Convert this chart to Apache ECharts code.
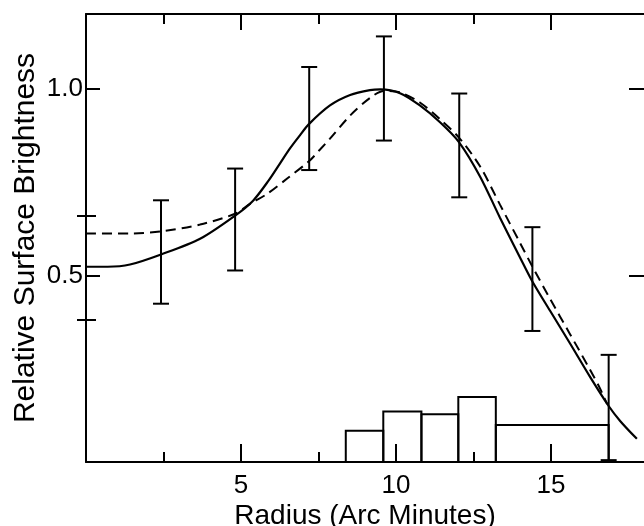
<!DOCTYPE html>
<html>
<head>
<meta charset="utf-8">
<script src="https://cdn.jsdelivr.net/npm/echarts@6/dist/echarts.min.js"></script>
<style>
  html, body { margin: 0; padding: 0; background: #fff; }
  #container { width: 644px; height: 526px; }
</style>
</head>
<body>
<div id="container"></div>
<script>
// solid model curve
var solidX = [0, 0.7, 1.42, 2.42, 3.68, 4.81, 5.39, 5.9, 6.26, 6.58, 6.9, 7.19, 7.87, 8.52, 9.16, 9.5, 10.13, 10.77, 11.42, 12.03, 12.71, 13.35, 14.0, 14.39, 14.97, 15.61, 16.26, 16.86, 17.23, 17.77];
var solidY = [0.523, 0.523, 0.529, 0.556, 0.598, 0.66, 0.7, 0.755, 0.8, 0.84, 0.875, 0.905, 0.955, 0.983, 0.996, 0.998, 0.988, 0.955, 0.91, 0.857, 0.765, 0.655, 0.548, 0.485, 0.405, 0.318, 0.228, 0.15, 0.11, 0.062];
// dashed model curve
var dashX = [0, 1.42, 2.42, 3.68, 4.81, 5.3, 5.84, 6.5, 7.2, 7.55, 7.87, 8.52, 9.16, 9.61, 10.13, 10.77, 11.42, 12.03, 12.71, 13.35, 14.0, 14.39, 14.97, 15.61, 16.26, 16.58, 16.81];
var dashY = [0.612, 0.612, 0.618, 0.636, 0.665, 0.692, 0.718, 0.76, 0.806, 0.837, 0.866, 0.928, 0.975, 0.994, 0.99, 0.963, 0.918, 0.869, 0.792, 0.69, 0.587, 0.525, 0.437, 0.343, 0.247, 0.197, 0.155];
// measured points with error bars
var errX = [2.42, 4.81, 7.2, 9.61, 12.04, 14.4, 16.86];
var errLow = [0.424, 0.513, 0.782, 0.861, 0.709, 0.351, 0.005];
var errHigh = [0.701, 0.786, 1.058, 1.14, 0.987, 0.629, 0.287];
// histogram at the bottom
var histEdges = [8.38, 9.59, 10.82, 12.01, 13.22, 16.86];
var histHeights = [0.084, 0.135, 0.128, 0.174, 0.099];
// ticks
var xMajorTicks = [5, 10, 15];
var xMinorTicks = [2.5, 7.5, 12.5];
var yLabelTicks = [0.5, 1.0];
var yExtraTicks = [0.38, 0.66];

var font = "Liberation Sans";
var dom = document.getElementById("container");
var myChart = echarts.init(dom);

function toPairs(xs, ys) {
  return xs.map(function (x, i) { return [x, ys[i]]; });
}

var errData = errX.map(function (x, i) { return [x, errLow[i], errHigh[i]]; });
var histData = histHeights.map(function (h, i) { return [histEdges[i], histEdges[i + 1], h]; });

var lineStyleBlack = { stroke: "#000", lineWidth: 2 };

function hiddenX(pos, ticks, len) {
  return {
    type: "value", position: pos, min: 0, max: 18,
    axisLine: { show: false, onZero: false },
    axisTick: { show: true, inside: true, length: len, customValues: ticks, lineStyle: { color: "#000", width: 2 } },
    axisLabel: { show: false },
    splitLine: { show: false }
  };
}

var option = {
  backgroundColor: "#fff",
  animation: false,
  grid: { left: 86, right: 0, top: 14, bottom: 64, containLabel: false, outerBoundsMode: "none" },
  xAxis: [
    {
      type: "value", position: "bottom", min: 0, max: 18,
      name: "Radius (Arc Minutes)", nameLocation: "middle", nameGap: 40, nameMoveOverlap: false,
      nameTextStyle: { fontFamily: font, fontSize: 28, color: "#000" },
      axisLine: { show: true, onZero: false, lineStyle: { color: "#000", width: 2 } },
      axisTick: { show: true, inside: true, length: 18, customValues: xMajorTicks, lineStyle: { color: "#000", width: 2 } },
      axisLabel: { show: true, customValues: xMajorTicks, margin: 11, fontFamily: font, fontSize: 26, color: "#000" },
      splitLine: { show: false }
    },
    hiddenX("bottom", xMinorTicks, 10),
    {
      type: "value", position: "top", min: 0, max: 18,
      axisLine: { show: true, onZero: false, lineStyle: { color: "#000", width: 2 } },
      axisTick: { show: true, inside: true, length: 16, customValues: xMajorTicks, lineStyle: { color: "#000", width: 2 } },
      axisLabel: { show: false },
      splitLine: { show: false }
    },
    hiddenX("top", xMinorTicks, 10)
  ],
  yAxis: [
    {
      type: "value", position: "left", min: 0, max: 1.2,
      name: "Relative Surface Brightness", nameLocation: "middle", nameGap: 45, nameMoveOverlap: false,
      nameTextStyle: { fontFamily: font, fontSize: 30, color: "#000" },
      axisLine: { show: true, onZero: false, lineStyle: { color: "#000", width: 2 } },
      axisTick: { show: true, inside: true, length: 14, customValues: yLabelTicks, lineStyle: { color: "#000", width: 2 } },
      axisLabel: { show: true, customValues: yLabelTicks, margin: 3, fontFamily: font, fontSize: 26, color: "#000",
        formatter: function (v) { return v.toFixed(1); } },
      splitLine: { show: false }
    },
    {
      // short ticks crossing the left axis
      type: "value", position: "left", offset: -10, min: 0, max: 1.2,
      axisLine: { show: false, onZero: false },
      axisTick: { show: true, inside: false, length: 19, customValues: yExtraTicks, lineStyle: { color: "#000", width: 2 } },
      axisLabel: { show: false },
      splitLine: { show: false }
    },
    {
      type: "value", position: "right", min: 0, max: 1.2,
      axisLine: { show: false, onZero: false },
      axisTick: { show: true, inside: true, length: 15, customValues: yLabelTicks, lineStyle: { color: "#000", width: 2 } },
      axisLabel: { show: false },
      splitLine: { show: false }
    }
  ],
  series: [
    {
      name: "solid", type: "line", xAxisIndex: 0, yAxisIndex: 0,
      data: toPairs(solidX, solidY), smooth: 0.3, showSymbol: false, symbol: "none",
      lineStyle: { color: "#000", width: 2.2 }
    },
    {
      name: "dashed", type: "line", xAxisIndex: 0, yAxisIndex: 0,
      data: toPairs(dashX, dashY), smooth: 0.3, showSymbol: false, symbol: "none",
      lineStyle: { color: "#000", width: 2, type: [10, 6] }
    },
    {
      name: "errors", type: "custom", xAxisIndex: 0, yAxisIndex: 0,
      data: errData,
      renderItem: function (params, api) {
        var top = api.coord([api.value(0), api.value(2)]);
        var bot = api.coord([api.value(0), api.value(1)]);
        var cap = 8;
        return {
          type: "group",
          children: [
            { type: "line", shape: { x1: top[0], y1: top[1], x2: bot[0], y2: bot[1] }, style: lineStyleBlack },
            { type: "line", shape: { x1: top[0] - cap, y1: top[1], x2: top[0] + cap, y2: top[1] }, style: lineStyleBlack },
            { type: "line", shape: { x1: bot[0] - cap, y1: bot[1], x2: bot[0] + cap, y2: bot[1] }, style: lineStyleBlack }
          ]
        };
      }
    },
    {
      name: "histogram", type: "custom", xAxisIndex: 0, yAxisIndex: 0,
      data: histData,
      renderItem: function (params, api) {
        var lt = api.coord([api.value(0), api.value(2)]);
        var rb = api.coord([api.value(1), 0]);
        return {
          type: "polyline",
          shape: { points: [[lt[0], rb[1]], [lt[0], lt[1]], [rb[0], lt[1]], [rb[0], rb[1]]] },
          style: { stroke: "#000", lineWidth: 2, fill: null }
        };
      }
    }
  ]
};

myChart.setOption(option);
</script>
</body>
</html>
